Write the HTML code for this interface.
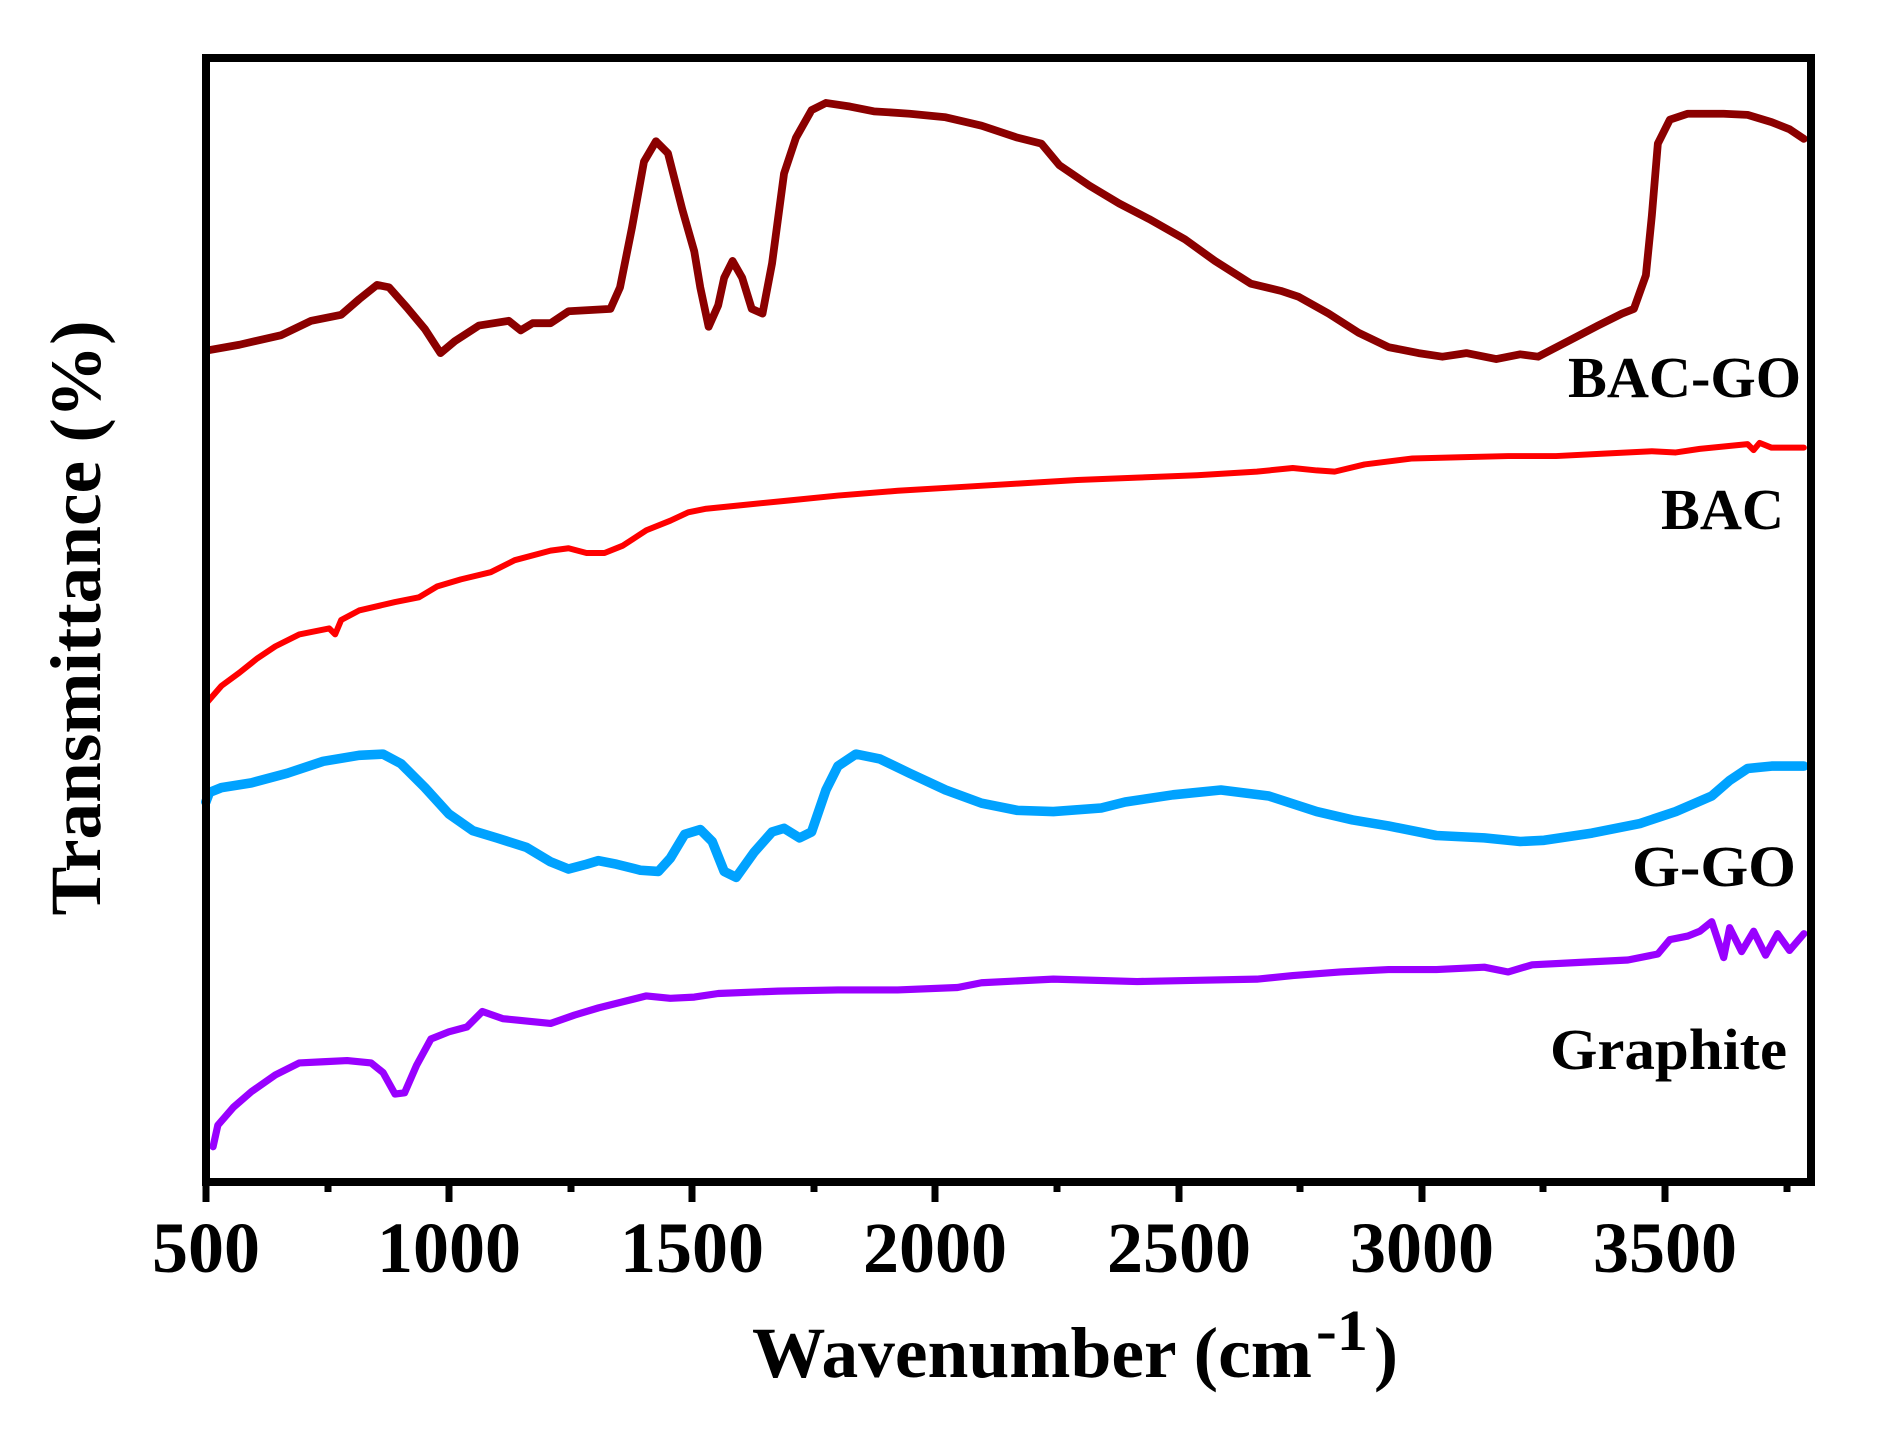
<!DOCTYPE html>
<html><head><meta charset="utf-8"><style>html,body{margin:0;padding:0;background:#fff}svg{display:block}</style></head>
<body>
<svg width="1879" height="1433" viewBox="0 0 1879 1433" xmlns="http://www.w3.org/2000/svg" font-family="'Liberation Serif', serif" font-weight="bold">
<rect width="1879" height="1433" fill="#fff"/>
<g transform="scale(1.197)" fill="none" stroke-linejoin="round" stroke-linecap="round">
<polyline stroke="#8B0000" stroke-width="6.5" points="172,293 200,288 235,280 260,268 285,263 300,250 315,238 325,240 340,257 355,275 368,295 380,285 400,272 425,268 435,276 445,270 460,270 475,260 510,258 518,240 528,190 538,135 548,118 558,128 570,175 580,210 585,240 592,273 600,255 605,232 612,218 620,232 628,258 637,262 645,220 655,145 665,115 678,92 690,86 710,89 730,93 760,95 790,98 820,105 850,115 870,120 885,138 910,155 935,170 960,183 990,200 1015,218 1045,237 1070,243 1085,248 1110,262 1135,278 1160,290 1185,295 1205,298 1225,295 1250,300 1270,296 1285,298 1310,285 1335,272 1355,262 1365,258 1375,230 1380,180 1385,120 1395,100 1410,95 1440,95 1460,96 1480,102 1495,108 1507,116"/>
<polyline stroke="#FF0000" stroke-width="5" points="172,588 185,573 200,562 215,550 230,540 250,530 275,525 280,530 285,518 300,510 330,503 350,499 365,490 385,484 410,478 430,468 460,460 475,458 490,462 505,462 520,456 540,443 560,435 575,428 590,425 620,422 660,418 700,414 750,410 800,407 850,404 900,401 950,399 1000,397 1050,394 1080,391 1100,393 1115,394 1140,388 1180,383 1220,382 1260,381 1300,381 1340,379 1380,377 1400,378 1420,375 1440,373 1460,371 1465,376 1470,370 1480,374 1507,374"/>
<polyline stroke="#00A2FF" stroke-width="8" points="172,670 175,662 185,658 210,654 240,646 270,636 300,631 320,630 335,638 355,658 375,680 395,694 415,700 440,708 460,720 475,726 490,722 500,719 515,722 535,727 550,728 560,717 572,697 585,693 595,703 605,728 615,733 630,712 645,695 655,692 668,700 678,695 690,660 700,640 715,630 735,634 760,646 790,660 820,671 850,677 880,678 920,675 940,670 980,664 1020,660 1060,665 1100,678 1130,685 1160,690 1200,698 1240,700 1270,703 1290,702 1330,696 1370,688 1400,678 1430,665 1445,652 1460,642 1480,640 1507,640"/>
<polyline stroke="#9900FF" stroke-width="6" points="178,958 182,940 195,925 210,912 230,898 250,888 270,887 290,886 310,888 320,896 330,914 338,913 348,890 360,868 375,862 390,858 403,845 420,851 440,853 460,855 480,848 500,842 520,837 540,832 560,834 580,833 600,830 650,828 700,827 750,827 800,825 820,821 880,818 950,820 1000,819 1050,818 1080,815 1120,812 1160,810 1200,810 1240,808 1260,812 1280,806 1320,804 1360,802 1385,797 1395,785 1410,782 1420,778 1430,770 1440,800 1445,775 1455,795 1465,778 1475,798 1485,780 1495,794 1507,780"/>
</g>
<g stroke="#000" stroke-width="8" fill="none">
<rect x="206" y="58" width="1605" height="1124"/>
</g>
<g stroke="#000" stroke-width="7">
<line x1="206" y1="1182" x2="206" y2="1202"/><line x1="449" y1="1182" x2="449" y2="1202"/><line x1="692" y1="1182" x2="692" y2="1202"/><line x1="935" y1="1182" x2="935" y2="1202"/><line x1="1179" y1="1182" x2="1179" y2="1202"/><line x1="1422" y1="1182" x2="1422" y2="1202"/><line x1="1665" y1="1182" x2="1665" y2="1202"/>
<line x1="328" y1="1182" x2="328" y2="1192"/><line x1="571" y1="1182" x2="571" y2="1192"/><line x1="814" y1="1182" x2="814" y2="1192"/><line x1="1057" y1="1182" x2="1057" y2="1192"/><line x1="1300" y1="1182" x2="1300" y2="1192"/><line x1="1543" y1="1182" x2="1543" y2="1192"/><line x1="1787" y1="1182" x2="1787" y2="1192"/>
</g>
<g font-size="72" text-anchor="middle" fill="#000">
<text x="206" y="1272" textLength="108" lengthAdjust="spacingAndGlyphs">500</text>
<text x="449" y="1272" textLength="144" lengthAdjust="spacingAndGlyphs">1000</text>
<text x="692" y="1272" textLength="144" lengthAdjust="spacingAndGlyphs">1500</text>
<text x="935" y="1272" textLength="144" lengthAdjust="spacingAndGlyphs">2000</text>
<text x="1179" y="1272" textLength="144" lengthAdjust="spacingAndGlyphs">2500</text>
<text x="1422" y="1272" textLength="144" lengthAdjust="spacingAndGlyphs">3000</text>
<text x="1665" y="1272" textLength="144" lengthAdjust="spacingAndGlyphs">3500</text>
</g>
<text x="752" y="1377" font-size="72" textLength="560" lengthAdjust="spacingAndGlyphs">Wavenumber (cm</text>
<text x="1316" y="1350" font-size="58" textLength="52" lengthAdjust="spacingAndGlyphs">-1</text>
<text x="1374" y="1377" font-size="72">)</text>
<text transform="translate(100,618) rotate(-90)" text-anchor="middle" font-size="72" textLength="595" lengthAdjust="spacingAndGlyphs">Transmittance (%)</text>
<g font-size="58" fill="#000">
<text x="1568" y="397" textLength="233" lengthAdjust="spacingAndGlyphs">BAC-GO</text>
<text x="1661" y="529" textLength="123" lengthAdjust="spacingAndGlyphs">BAC</text>
<text x="1632" y="886" textLength="164" lengthAdjust="spacingAndGlyphs">G-GO</text>
<text x="1550" y="1069" textLength="237" lengthAdjust="spacingAndGlyphs">Graphite</text>
</g>
</svg>
</body></html>
